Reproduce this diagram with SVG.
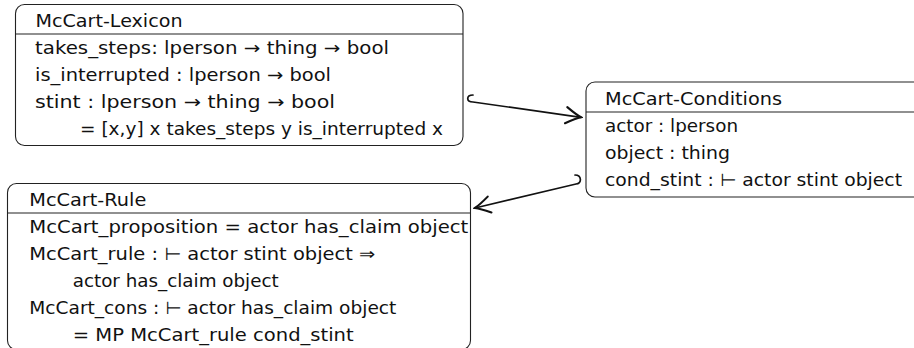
<svg xmlns="http://www.w3.org/2000/svg" width="914" height="348" viewBox="0 0 914 348">
<style>
.box{fill:#fff;stroke:#222;stroke-width:1.1}
.sep{stroke:#222;stroke-width:1.1}
text{font-family:"DejaVu Sans","Liberation Sans",sans-serif;font-size:17.5px;fill:#111}
.conn{fill:none;stroke:#111;stroke-width:1.7;stroke-linecap:round}
</style>
<defs>
<marker id="arr" markerUnits="userSpaceOnUse" markerWidth="20" markerHeight="20" viewBox="-14 -8 16 16" refX="0" refY="0" orient="auto">
<path d="M -12 -6.5 Q -4 -1.5 0 0 Q -4 1.5 -12 6.5" fill="none" stroke="#111" stroke-width="1.7" stroke-linecap="round"/>
</marker>
</defs>
<rect width="914" height="348" fill="#fff"/>
<g id="lexicon">
<rect class="box" x="15.5" y="4.5" width="447.5" height="141" rx="9"/>
<line class="sep" x1="15.5" y1="34" x2="463" y2="34"/>
<text x="35.5" y="26.7" textLength="147" lengthAdjust="spacingAndGlyphs">McCart-Lexicon</text>
<text x="35" y="54" textLength="354" lengthAdjust="spacingAndGlyphs">takes_steps: lperson → thing → bool</text>
<text x="35" y="81" textLength="296" lengthAdjust="spacingAndGlyphs">is_interrupted : lperson → bool</text>
<text x="35" y="108" textLength="300" lengthAdjust="spacingAndGlyphs">stint : lperson → thing → bool</text>
<text x="80" y="135" textLength="363" lengthAdjust="spacingAndGlyphs">= [x,y] x takes_steps y is_interrupted x</text>
</g>
<g id="conditions">
<rect class="box" x="586" y="82" width="340" height="115" rx="9"/>
<line class="sep" x1="586" y1="112" x2="914" y2="112"/>
<text x="605" y="104.7" textLength="177" lengthAdjust="spacingAndGlyphs">McCart-Conditions</text>
<text x="605" y="132" textLength="133" lengthAdjust="spacingAndGlyphs">actor : lperson</text>
<text x="605" y="159" textLength="125" lengthAdjust="spacingAndGlyphs">object : thing</text>
<text x="605" y="186" textLength="297" lengthAdjust="spacingAndGlyphs">cond_stint : ⊢ actor stint object</text>
</g>
<g id="rule">
<rect class="box" x="7.5" y="183.5" width="463" height="166" rx="9"/>
<line class="sep" x1="7.5" y1="213" x2="470.5" y2="213"/>
<text x="29.3" y="205.7" textLength="117" lengthAdjust="spacingAndGlyphs">McCart-Rule</text>
<text x="29.3" y="233" textLength="439" lengthAdjust="spacingAndGlyphs">McCart_proposition = actor has_claim object</text>
<text x="29.3" y="260" textLength="346" lengthAdjust="spacingAndGlyphs">McCart_rule : ⊢ actor stint object ⇒</text>
<text x="72.7" y="287" textLength="206" lengthAdjust="spacingAndGlyphs">actor has_claim object</text>
<text x="29.3" y="314" textLength="367" lengthAdjust="spacingAndGlyphs">McCart_cons : ⊢ actor has_claim object</text>
<text x="72.7" y="341" textLength="281" lengthAdjust="spacingAndGlyphs">= MP McCart_rule cond_stint</text>
</g>
<g id="connectors">
<path class="conn" d="M 473 95 C 466 95, 466 102, 473 102 L 581 117.3" marker-end="url(#arr)"/>
<path class="conn" d="M 575 175 C 582 175, 582 184, 576 184 L 475 208" marker-end="url(#arr)"/>
</g>
</svg>
